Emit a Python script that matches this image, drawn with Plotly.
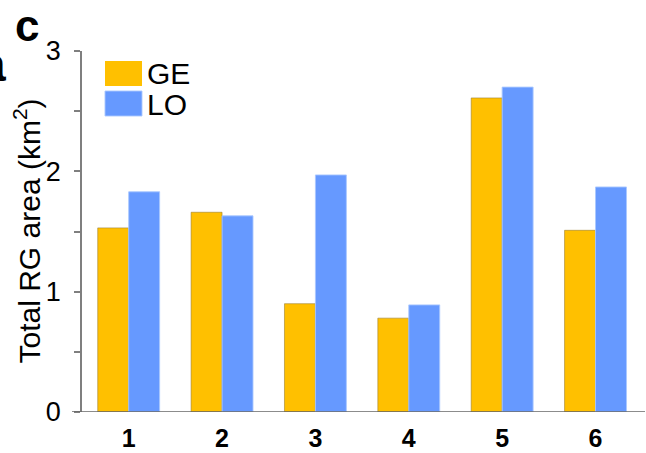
import plotly.graph_objects as go

# Sites and total RG area (km^2) per method
sites = ["1", "2", "3", "4", "5", "6"]
ge_area = [1.53, 1.66, 0.90, 0.78, 2.61, 1.51]
lo_area = [1.83, 1.63, 1.97, 0.89, 2.70, 1.87]
series_names = ["GE", "LO"]
y_ticks = [0, 1, 2, 3]
y_title = "Total RG area (km<sup>2</sup>)"

GE_COLOR = "#FFC000"
LO_COLOR = "#6699FF"
AXIS_COLOR = "#7f7f7f"
FONT = "Liberation Sans, Arial, sans-serif"

W, H = 646, 453
ML, MR, MT, MB = 82, 1, 51, 41
PW, PH = W - ML - MR, H - MT - MB


def px_x(px):
    return (px - ML) / PW


def px_y(py):
    return (H - MB - py) / PH


fig = go.Figure()
fig.add_trace(go.Bar(
    x=sites, y=ge_area, name=series_names[0],
    marker=dict(color=GE_COLOR, line=dict(color="rgba(150,120,40,0.55)", width=1)),
))
fig.add_trace(go.Bar(
    x=sites, y=lo_area, name=series_names[1],
    marker=dict(color=LO_COLOR, line=dict(color="rgba(170,200,255,0.9)", width=1)),
))

shapes = [
    # baseline, running a little past the y axis on the left
    dict(type="line", xref="paper", yref="y", x0=px_x(72), x1=1, y0=0, y1=0,
         line=dict(color="#666666", width=1.5)),
    # legend swatches
    dict(type="rect", xref="paper", yref="paper",
         x0=px_x(105), x1=px_x(142), y0=px_y(86), y1=px_y(61),
         fillcolor=GE_COLOR, line=dict(width=0)),
    dict(type="rect", xref="paper", yref="paper",
         x0=px_x(105), x1=px_x(142), y0=px_y(116), y1=px_y(91),
         fillcolor=LO_COLOR, line=dict(color="rgba(170,200,255,0.9)", width=1)),
]

annotations = [
    dict(text=series_names[0], xref="paper", yref="paper", x=px_x(145), y=px_y(74),
         xanchor="left", yanchor="middle", showarrow=False,
         font=dict(family=FONT, size=30, color="black")),
    dict(text=series_names[1], xref="paper", yref="paper", x=px_x(145), y=px_y(104),
         xanchor="left", yanchor="middle", showarrow=False,
         font=dict(family=FONT, size=30, color="black")),
    # y axis title
    dict(text=y_title, xref="paper", yref="paper", x=px_x(27), y=0.5,
         xanchor="center", yanchor="middle", textangle=-90, showarrow=False,
         font=dict(family=FONT, size=30, color="black")),
    # panel letters
    dict(text="<b>c</b>", xref="paper", yref="paper", x=px_x(13), y=px_y(25),
         xanchor="left", yanchor="middle", showarrow=False,
         font=dict(family=FONT, size=44, color="black")),
    dict(text="<b>a</b>", xref="paper", yref="paper", x=px_x(8), y=px_y(64),
         xanchor="right", yanchor="middle", showarrow=False,
         font=dict(family=FONT, size=48, color="black")),
]

fig.update_layout(
    width=W, height=H,
    margin=dict(l=ML, r=MR, t=MT, b=MB, pad=0),
    paper_bgcolor="white", plot_bgcolor="white",
    barmode="group", bargap=0.337, bargroupgap=0,
    showlegend=False,
    shapes=shapes, annotations=annotations,
    font=dict(family=FONT, color="black"),
)
fig.update_xaxes(
    type="category", range=[-0.5, 5.53],
    showline=False, showgrid=False, zeroline=False, ticks="",
    tickfont=dict(family=FONT, size=25, color="black", weight="bold"),
    ticklabelstandoff=9,
)
fig.update_yaxes(
    range=[0, 3], tickvals=y_ticks, ticktext=[str(v) for v in y_ticks],
    showline=True, linecolor=AXIS_COLOR, linewidth=1.5,
    ticks="outside", ticklen=6, tickwidth=1.5, tickcolor=AXIS_COLOR,
    minor=dict(dtick=0.5, ticks="outside", ticklen=6, tickwidth=1.5, tickcolor=AXIS_COLOR),
    showgrid=False, zeroline=False,
    tickfont=dict(family=FONT, size=27, color="black"),
    ticklabelstandoff=8,
)

fig.write_html("out.html")
